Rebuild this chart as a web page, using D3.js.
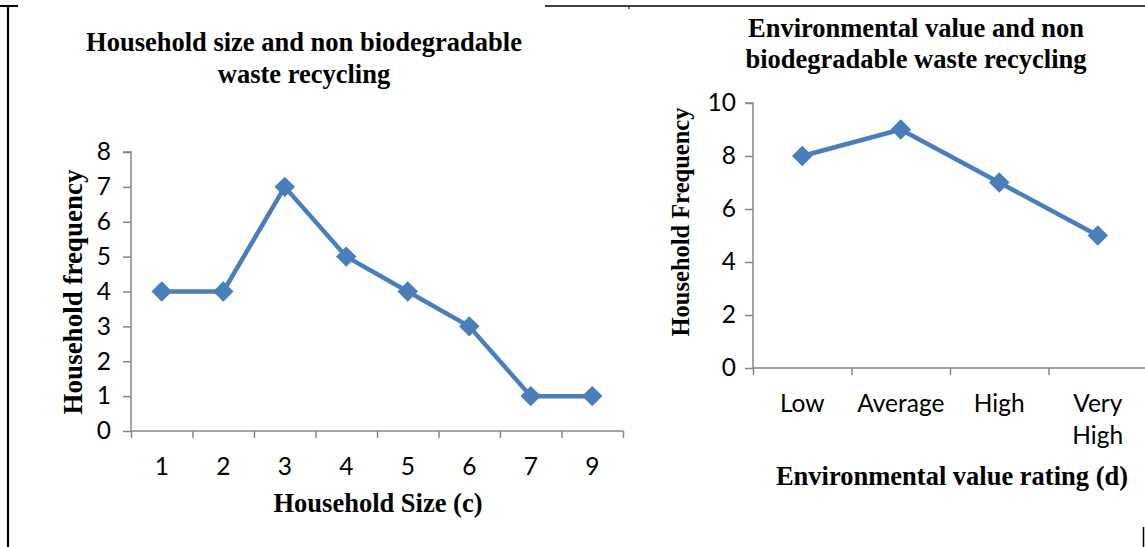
<!DOCTYPE html>
<html><head><meta charset="utf-8">
<script src="https://cdn.jsdelivr.net/npm/d3@7"></script>
<style>
html,body{margin:0;padding:0;background:#fff;}
svg{display:block;}
</style></head>
<body>
<svg id="chart" width="1145" height="547"></svg>
<script>
// Chart (c)
const sizeCategories = ["1","2","3","4","5","6","7","9"];
const sizeFrequency = [4,4,7,5,4,3,1,1];
const sizeTicks = [0,1,2,3,4,5,6,7,8];
// Chart (d)
const ratingCategories = ["Low","Average","High","Very High"];
const ratingFrequency = [8,9,7,5];
const ratingTicks = [0,2,4,6,8,10];

const svg = d3.select("#chart");
const lineColor = "#4A7EBB";
const axisColor = "#868686";
const serif = "'Liberation Serif','Times New Roman',serif";
const sans = "Lato,'Open Sans',Calibri,sans-serif";

// frame lines
svg.append("line").attr("x1",0).attr("x2",18).attr("y1",6).attr("y2",6).attr("stroke","#000").attr("stroke-width",2);
svg.append("line").attr("x1",8).attr("x2",8).attr("y1",5).attr("y2",547).attr("stroke","#000").attr("stroke-width",2.2);
svg.append("line").attr("x1",545).attr("x2",1145).attr("y1",6).attr("y2",6).attr("stroke","#000").attr("stroke-width",1.5);
svg.append("line").attr("x1",629).attr("x2",629).attr("y1",6).attr("y2",9).attr("stroke","#000").attr("stroke-width",1);
svg.append("line").attr("x1",1143.5).attr("x2",1143.5).attr("y1",527).attr("y2",547).attr("stroke","#000").attr("stroke-width",1.5);

function drawChart(cfg){
  const g = svg.append("g");
  const x = d3.scaleBand().domain(cfg.categories).range(cfg.xRange);
  const xb = d3.scaleLinear().domain([0,cfg.categories.length]).range(cfg.xRange);
  const y = d3.scaleLinear().domain(cfg.yDomain).range(cfg.yRange);

  // y axis
  const ya = g.append("g").attr("transform",`translate(${cfg.xRange[0]},0)`)
    .call(d3.axisLeft(y).tickValues(cfg.yTicks).tickSize(8).tickPadding(cfg.yPad).tickFormat(d3.format("d")));
  ya.selectAll("path,line").attr("stroke",axisColor).attr("stroke-width",1.5);
  ya.select(".domain").attr("d",`M-8,${cfg.yRange[1]}H0V${cfg.yRange[0]}`);
  ya.selectAll("text").attr("font-family",sans).attr("font-size",cfg.tickFont).attr("fill","#000");

  // x axis tick marks at category boundaries
  const xa = g.append("g").attr("transform",`translate(0,${cfg.yRange[0]})`)
    .call(d3.axisBottom(xb).tickValues(d3.range(cfg.categories.length+1)).tickSize(7).tickFormat(""));
  xa.selectAll("path,line").attr("stroke",axisColor).attr("stroke-width",1.5);
  xa.select(".domain").attr("d",`M${cfg.xRange[0]},0H${cfg.xRange[1]}`);

  // x labels
  const xl = g.append("g").attr("transform",`translate(0,${cfg.yRange[0]})`)
    .call(d3.axisBottom(x).tickSize(0).tickPadding(0));
  xl.select(".domain").remove();
  xl.selectAll("text").attr("font-family",sans).attr("font-size",cfg.tickFont).attr("fill","#000")
    .attr("dy",null).attr("y",null).text(null)
    .each(function(d){
      const words = d.split(" ");
      const t = d3.select(this);
      if(words.length>1){
        words.forEach((w,i)=>t.append("tspan").attr("x",0).attr("y",cfg.labelDy+i*cfg.lineH).text(w));
      } else {
        t.attr("y",cfg.labelDy).text(d);
      }
    });

  // series line
  const data = cfg.categories.map((c,i)=>({c, v:cfg.values[i]}));
  g.append("path").datum(data)
    .attr("fill","none").attr("stroke",lineColor).attr("stroke-width",4.5).attr("stroke-linejoin","round")
    .attr("d", d3.line().x(d=>x(d.c)+x.bandwidth()/2).y(d=>y(d.v)));
  g.selectAll(".mk").data(data).join("path").attr("class","mk")
    .attr("d", d3.symbol().type(d3.symbolSquare).size(210))
    .attr("transform", d=>`translate(${x(d.c)+x.bandwidth()/2},${y(d.v)}) rotate(45)`)
    .attr("fill",lineColor);

  // titles
  const tt = g.append("text").attr("font-family",serif).attr("font-weight","bold").attr("font-size",cfg.titleFont)
    .attr("text-anchor","middle").attr("fill","#000");
  cfg.title.forEach((line,i)=>tt.append("tspan").attr("x",cfg.titleX).attr("y",cfg.titleY+i*cfg.titleLH).text(line));
  g.append("text").attr("font-family",serif).attr("font-weight","bold").attr("font-size",cfg.axisFont)
    .attr("text-anchor","middle").attr("x",cfg.xTitleX).attr("y",cfg.xTitleY).text(cfg.xTitle);
  g.append("text").attr("font-family",serif).attr("font-weight","bold").attr("font-size",cfg.yAxisFont)
    .attr("text-anchor","middle").attr("transform",`translate(${cfg.yTitleX},${cfg.yTitleY}) rotate(-90)`).text(cfg.yTitle);
}

drawChart({
  categories: sizeCategories, values: sizeFrequency, yTicks: sizeTicks,
  xRange:[131,623], yDomain:[0,8], yRange:[431,152], yPad:12,
  tickFont:24.5, labelDy:44, lineH:32,
  title:["Household size and non biodegradable","waste recycling"], titleX:304, titleY:51, titleLH:32, titleFont:26.5,
  xTitle:"Household Size (c)", xTitleX:378, xTitleY:512, axisFont:26.5,
  yTitle:"Household frequency", yTitleX:82, yTitleY:292, yAxisFont:27
});
drawChart({
  categories: ratingCategories, values: ratingFrequency, yTicks: ratingTicks,
  xRange:[753,1147], yDomain:[0,10], yRange:[368,103], yPad:9,
  tickFont:24.5, labelDy:44, lineH:32,
  title:["Environmental value and non","biodegradable waste recycling"], titleX:916, titleY:37, titleLH:31, titleFont:26.5,
  xTitle:"Environmental value rating (d)", xTitleX:952, xTitleY:485, axisFont:26.5,
  yTitle:"Household Frequency", yTitleX:689, yTitleY:222, yAxisFont:24.5
});
</script>
</body></html>
